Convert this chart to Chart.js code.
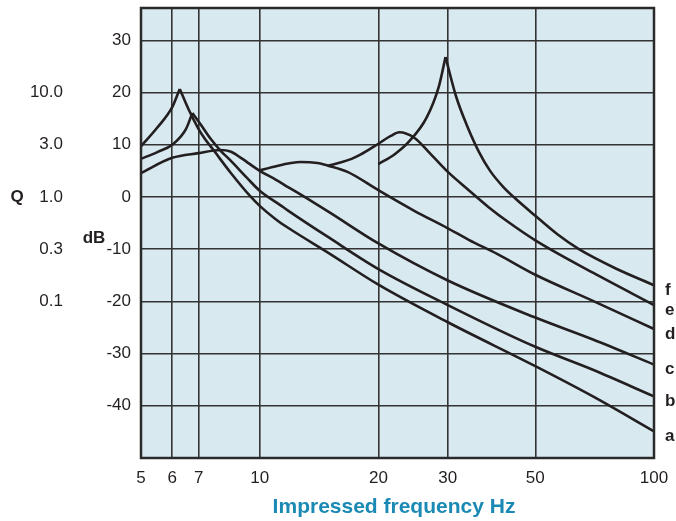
<!DOCTYPE html>
<html>
<head>
<meta charset="utf-8">
<script src="https://cdn.jsdelivr.net/npm/chart.js@4.4.1/dist/chart.umd.min.js"></script>
<style>
  html, body { margin: 0; padding: 0; background: #fff; }
  canvas { display: block; }
</style>
</head>
<body>
<canvas id="chart" width="676" height="521"></canvas>
<script>
// axis ticks
const freqTicks = [5, 6, 7, 10, 20, 30, 50, 100];
const dbTicks = [-40, -30, -20, -10, 0, 10, 20, 30];
const qLabels = ['10.0', '3.0', '1.0', '0.3', '0.1'];
const qLabelDb = [20, 10, 0, -10, -20];

// curve a (sharp peak, so rise and fall are kept apart)
const aRiseHz = [5, 5.5, 6, 6.27];
const aRiseDb = [9.7, 13.3, 17.2, 20.7];
const aFallHz = [6.27, 6.6, 7, 7.25, 7.65, 8.43, 9.5, 10, 11, 11.8, 15, 20, 30, 50, 70, 100];
const aFallDb = [20.7, 16.8, 13.0, 11.2, 8.9, 4.7, 0.0, -1.7, -4.3, -5.9, -10.8, -16.8, -24.0, -32.4, -38.2, -44.9];

// curve b
const bRiseHz = [5, 5.5, 6, 6.5, 6.75];
const bRiseDb = [7.3, 8.6, 10.0, 13.0, 16.1];
const bFallHz = [6.75, 7.1, 7.5, 7.95, 8.43, 9.3, 10, 11.3, 11.8, 15, 20, 30, 50, 70, 100];
const bFallDb = [16.1, 13.8, 11.2, 8.9, 7.0, 3.6, 1.2, -1.6, -2.6, -7.8, -13.8, -20.7, -28.7, -33.1, -38.2];

// curve c
const cHz = [5, 6, 7, 7.95, 8.43, 9, 10, 11, 11.8, 13, 15, 20, 30, 50, 70, 100];
const cDb = [4.6, 7.5, 8.4, 9.0, 8.7, 7.4, 5.0, 3.3, 1.9, 0, -2.9, -8.9, -16.0, -23.1, -27.3, -32.1];

// curve d
const dHz = [10, 11, 12, 12.7, 14, 14.9, 16.7, 20, 24.6, 30, 33.9, 40, 50, 70, 100];
const dDb = [5.1, 5.9, 6.5, 6.7, 6.5, 6.0, 4.8, 1.3, -2.6, -6.0, -8.2, -10.9, -14.9, -19.9, -25.3];

// curve e
const eHz = [14.9, 16, 17.1, 18, 20, 21.5, 22.6, 24.7, 27, 30, 33.9, 38, 42.7, 50, 70, 100];
const eDb = [6.0, 6.6, 7.3, 8.1, 10.2, 11.7, 12.4, 11.3, 8.4, 4.8, 1.3, -1.9, -4.8, -8.3, -14.5, -20.7];

// curve f
const fRiseHz = [20, 22, 23.9, 26.5, 28.5, 29.6];
const fRiseDb = [6.3, 8.2, 10.6, 15.2, 21.3, 26.8];
const fFallHz = [29.6, 31.5, 33.5, 36, 38.4, 41.5, 44.5, 50, 57, 64.5, 80, 100];
const fFallDb = [26.8, 19.2, 13.8, 8.6, 5.0, 1.9, -0.3, -3.6, -7.2, -10, -13.7, -16.9];

const curveNames = ['a', 'b', 'c', 'd', 'e', 'f'];
const curveEnds = [aFallDb, bFallDb, cDb, dDb, eDb, fFallDb].map(d => d[d.length - 1]);

const ink = '#231f20';
const font = '"Liberation Sans", Arial, sans-serif';

function pts(hz, db) {
  return hz.map((x, i) => ({ x: x, y: db[i] }));
}

function curve(hz, db) {
  return {
    data: pts(hz, db),
    showLine: true,
    borderColor: ink,
    borderWidth: 2.6,
    pointRadius: 0,
    cubicInterpolationMode: 'monotone',
    fill: false
  };
}

const datasets = [
  curve(aRiseHz, aRiseDb), curve(aFallHz, aFallDb),
  curve(bRiseHz, bRiseDb), curve(bFallHz, bFallDb),
  curve(cHz, cDb),
  curve(dHz, dDb),
  curve(eHz, eDb),
  curve(fRiseHz, fRiseDb), curve(fFallHz, fFallDb)
];

const decor = {
  id: 'decor',
  beforeDraw(chart) {
    const { ctx, chartArea: a } = chart;
    ctx.save();
    ctx.fillStyle = '#d9e9f0';
    ctx.fillRect(a.left, a.top, a.right - a.left, a.bottom - a.top);
    ctx.restore();
  },
  afterDraw(chart) {
    const { ctx, chartArea: a } = chart;
    const y = chart.scales.y;
    ctx.save();
    ctx.strokeStyle = '#2a2a2a';
    ctx.lineWidth = 2.5;
    ctx.strokeRect(a.left, a.top, a.right - a.left, a.bottom - a.top);

    // Q column on the far left
    ctx.fillStyle = ink;
    ctx.font = '17px ' + font;
    ctx.textAlign = 'right';
    ctx.textBaseline = 'middle';
    qLabels.forEach((t, i) => ctx.fillText(t, 63, y.getPixelForValue(qLabelDb[i])));

    ctx.font = 'bold 17px ' + font;
    ctx.textAlign = 'center';
    ctx.fillText('Q', 17, y.getPixelForValue(0));
    ctx.textBaseline = 'alphabetic';
    ctx.fillText('dB', 94, y.getPixelForValue(-10) - 6.5);

    // curve letters at right end
    ctx.textAlign = 'left';
    curveNames.forEach((n, i) => {
      ctx.fillText(n, a.right + 11, y.getPixelForValue(curveEnds[i]) + 9.5);
    });

    // x title
    ctx.fillStyle = '#1a8ab4';
    ctx.font = 'bold 21px ' + font;
    ctx.textAlign = 'center';
    ctx.fillText('Impressed frequency Hz', 394, 513);
    ctx.restore();
  }
};

new Chart(document.getElementById('chart'), {
  type: 'scatter',
  data: { datasets: datasets },
  options: {
    responsive: false,
    animation: false,
    devicePixelRatio: 1,
    layout: { padding: { left: 0, right: 22, top: 8, bottom: 0 } },
    plugins: { legend: { display: false }, tooltip: { enabled: false } },
    scales: {
      x: {
        type: 'logarithmic',
        min: 5,
        max: 100,
        afterBuildTicks: s => { s.ticks = freqTicks.map(v => ({ value: v })); },
        afterFit: s => { s.height = 63; s.paddingLeft = 0; s.paddingRight = 0; },
        grid: { color: '#333', lineWidth: 1.6, drawTicks: false },
        border: { display: false },
        ticks: {
          autoSkip: false,
          maxRotation: 0,
          padding: 10,
          color: ink,
          font: { family: font, size: 17 },
          callback: v => String(v)
        }
      },
      y: {
        min: -50,
        max: 36.2,
        afterBuildTicks: s => { s.ticks = dbTicks.map(v => ({ value: v })); },
        afterFit: s => { s.width = 141; s.paddingTop = 0; s.paddingBottom = 0; },
        grid: { color: '#333', lineWidth: 1.6, drawTicks: false },
        border: { display: false },
        ticks: {
          padding: 10,
          color: ink,
          font: { family: font, size: 17 },
          callback: v => String(v)
        }
      }
    }
  },
  plugins: [decor]
});
</script>
</body>
</html>
